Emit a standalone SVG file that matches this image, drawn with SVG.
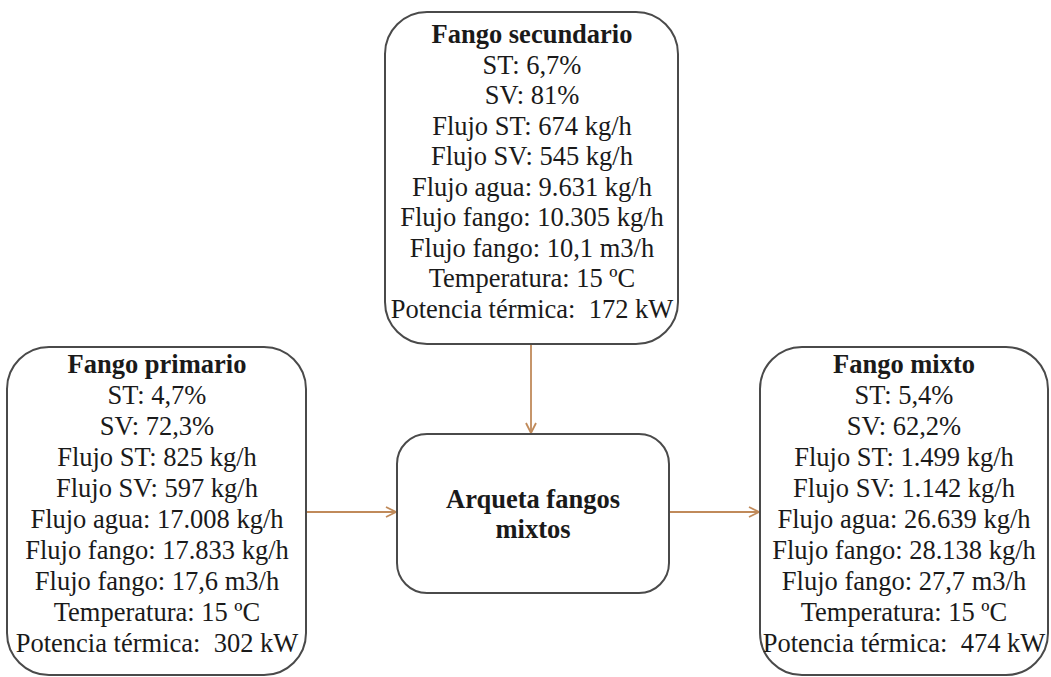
<svg xmlns="http://www.w3.org/2000/svg" width="1051" height="677" viewBox="0 0 1051 677">
<style>
.box{fill:#fff;stroke:#4a4a4a;stroke-width:2}
.t{font-family:"Liberation Serif","Times New Roman",serif;font-size:26.5px;fill:#1a1a1a;text-anchor:middle;white-space:pre}
.b{font-weight:bold}
.c{stroke:#c08a5a;stroke-width:1.8;fill:none}
</style>
<defs>
<marker id="ah" viewBox="0 0 12 12" refX="11" refY="6" markerWidth="12" markerHeight="12" markerUnits="userSpaceOnUse" orient="auto">
<path d="M1,1 L11,6 L1,11" fill="none" stroke="#c08a5a" stroke-width="1.8"/>
</marker>
</defs>
<rect width="1051" height="677" fill="#fff"/>
<g id="connectors">
<line class="c" x1="531" y1="344" x2="531" y2="433" marker-end="url(#ah)"/>
<line class="c" x1="306" y1="512" x2="396" y2="512" marker-end="url(#ah)"/>
<line class="c" x1="669" y1="512" x2="759" y2="512" marker-end="url(#ah)"/>
</g>
<g id="secundario">
<rect class="box" x="385" y="12" width="293" height="332" rx="42"/>
<text class="t" xml:space="preserve"><tspan class="b" x="532" y="43">Fango secundario</tspan><tspan x="532" y="74">ST: 6,7%</tspan><tspan x="532" y="104">SV: 81%</tspan><tspan x="532" y="135">Flujo ST: 674 kg/h</tspan><tspan x="532" y="165">Flujo SV: 545 kg/h</tspan><tspan x="532" y="196">Flujo agua: 9.631 kg/h</tspan><tspan x="532" y="226">Flujo fango: 10.305 kg/h</tspan><tspan x="532" y="257">Flujo fango: 10,1 m3/h</tspan><tspan x="532" y="287">Temperatura: 15 ºC</tspan><tspan x="532" y="318">Potencia térmica:  172 kW</tspan></text>
</g>
<g id="primario">
<rect class="box" x="7" y="347" width="299" height="328" rx="42"/>
<text class="t" xml:space="preserve"><tspan class="b" x="157" y="373">Fango primario</tspan><tspan x="157" y="404">ST: 4,7%</tspan><tspan x="157" y="435">SV: 72,3%</tspan><tspan x="157" y="466">Flujo ST: 825 kg/h</tspan><tspan x="157" y="497">Flujo SV: 597 kg/h</tspan><tspan x="157" y="528">Flujo agua: 17.008 kg/h</tspan><tspan x="157" y="559">Flujo fango: 17.833 kg/h</tspan><tspan x="157" y="590">Flujo fango: 17,6 m3/h</tspan><tspan x="157" y="621">Temperatura: 15 ºC</tspan><tspan x="157" y="652">Potencia térmica:  302 kW</tspan></text>
</g>
<g id="arqueta">
<rect class="box" x="397" y="434" width="272" height="159" rx="30"/>
<text class="t b"><tspan x="533" y="508">Arqueta fangos</tspan><tspan x="533" y="538">mixtos</tspan></text>
</g>
<g id="mixto">
<rect class="box" x="760" y="347" width="288" height="328" rx="42"/>
<text class="t" xml:space="preserve"><tspan class="b" x="904" y="373">Fango mixto</tspan><tspan x="904" y="404">ST: 5,4%</tspan><tspan x="904" y="435">SV: 62,2%</tspan><tspan x="904" y="466">Flujo ST: 1.499 kg/h</tspan><tspan x="904" y="497">Flujo SV: 1.142 kg/h</tspan><tspan x="904" y="528">Flujo agua: 26.639 kg/h</tspan><tspan x="904" y="559">Flujo fango: 28.138 kg/h</tspan><tspan x="904" y="590">Flujo fango: 27,7 m3/h</tspan><tspan x="904" y="621">Temperatura: 15 ºC</tspan><tspan x="904" y="652">Potencia térmica:  474 kW</tspan></text>
</g>
</svg>
